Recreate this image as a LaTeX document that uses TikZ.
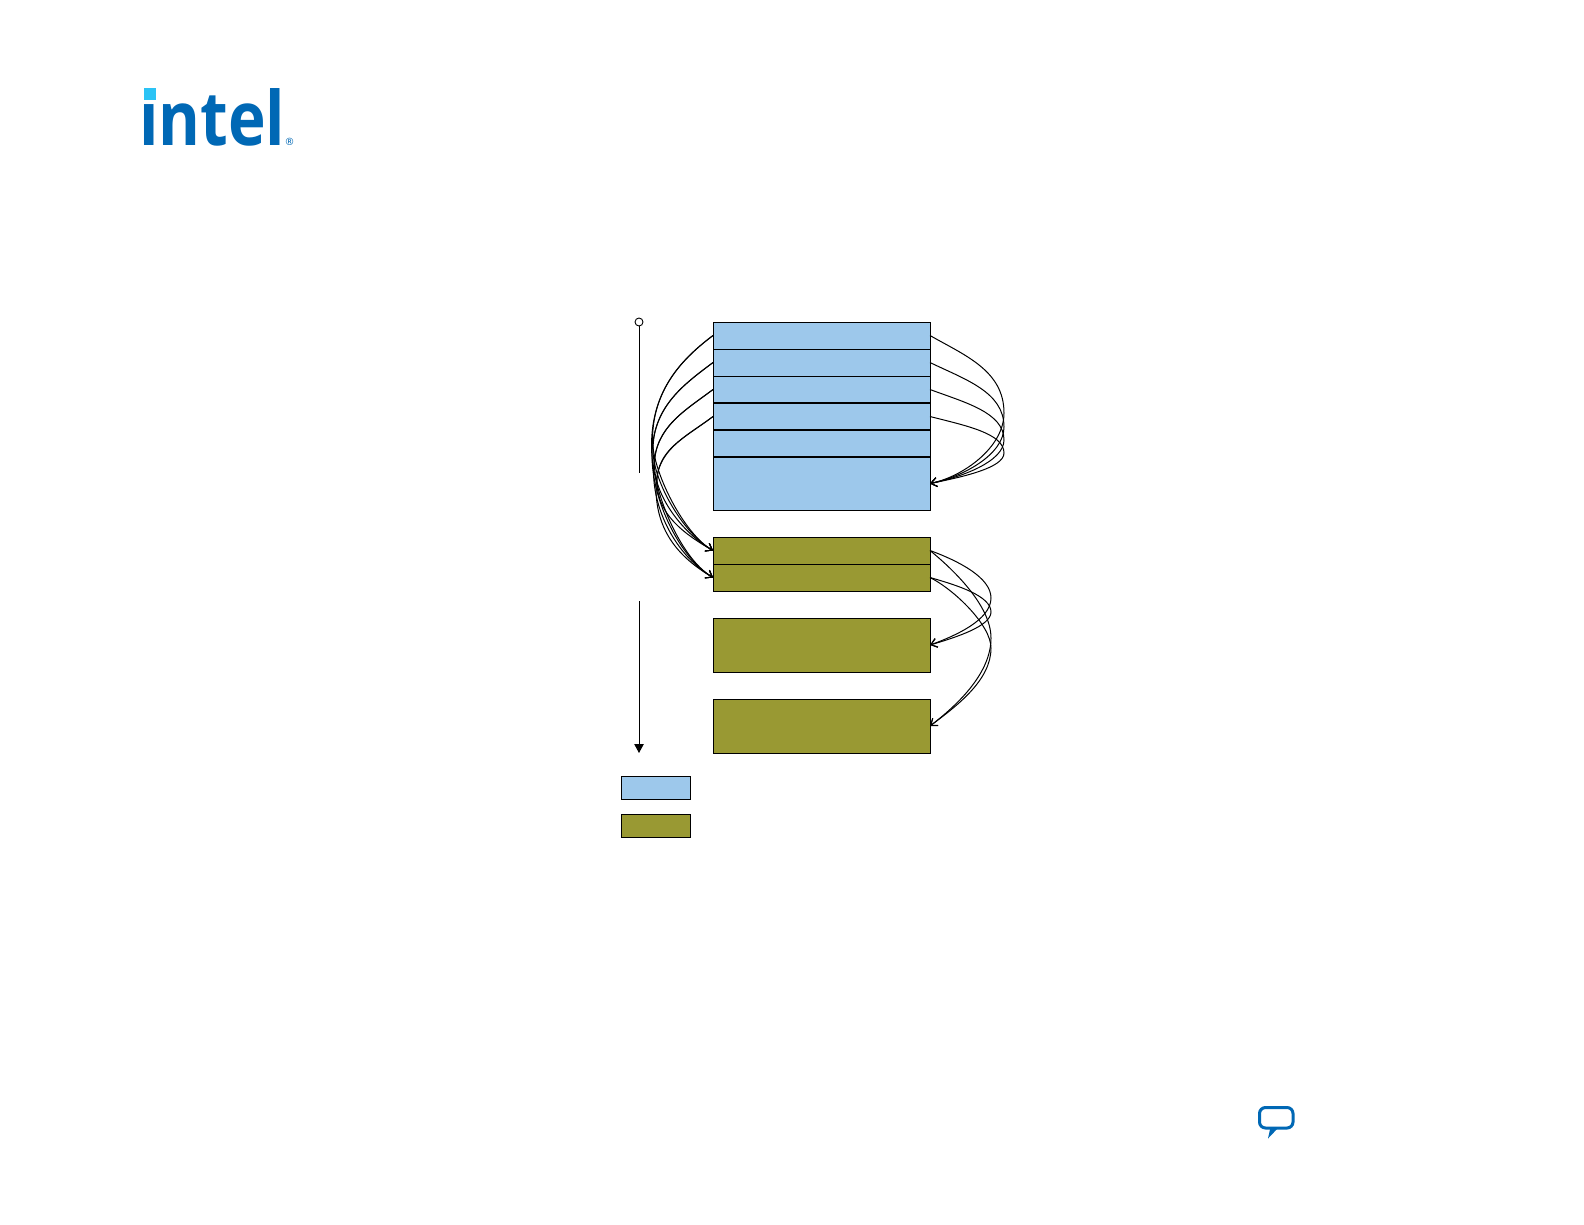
\documentclass[tikz,border=0pt]{standalone}
\usepackage{fontspec}
\usetikzlibrary{arrows.meta,calc}
\newfontfamily\logofont{Open Sans}[BoldFont={Open Sans Bold}]
\definecolor{sky}{HTML}{9DC8EB}
\definecolor{olivebox}{HTML}{999933}
\definecolor{intelblue}{HTML}{0068B5}
\definecolor{intelcyan}{HTML}{2BC3F5}
\tikzset{
  cellbox/.style={draw=black,line width=0.9pt,minimum width=217pt,inner sep=0pt,outer sep=0pt,anchor=north west},
  bluecell/.style={cellbox,fill=sky},
  olivecell/.style={cellbox,fill=olivebox},
  legendbox/.style={draw=black,line width=0.9pt,minimum width=69pt,minimum height=23pt,inner sep=0pt,outer sep=0pt,anchor=north west},
  link/.style={draw=black,line width=1pt},
  linkhead/.style={link,-{Straight Barb[length=6pt,width=9pt,line width=1pt]}},
  timeline/.style={draw=black,line width=1pt}
}
\begin{document}
\begin{tikzpicture}[x=1pt,y=-1pt]
\useasboundingbox (0,0) rectangle (1584,1224);
\fill[white] (0,0) rectangle (1584,1224);
% logo
\node[inner sep=0pt,anchor=base west,text=intelblue,xscale=0.85,transform shape,font=\logofont\bfseries\fontsize{75}{75}\selectfont] (logo) at (139,145) {intel};
\fill[white] (140,82) rectangle (160,101);
\fill[intelcyan] (144,88) rectangle (155.5,99.5);
\node[inner sep=0pt,text=intelblue,font=\fontspec{DejaVu Sans}\fontsize{10}{10}\selectfont] (reg) at (289.5,141.5) {®};
% speech bubble
\draw[intelblue,line width=3pt,rounded corners=6pt] (1259.5,1107.5) rectangle (1293,1128);
\fill[intelblue] (1268,1138.5) -- (1278,1128) -- (1270.5,1127) -- cycle;
% blue stack
\node[bluecell,minimum height=27pt] (b1) at (713,322) {};
\node[bluecell,minimum height=27pt] (b2) at (713,349) {};
\node[bluecell,minimum height=27pt] (b3) at (713,376) {};
\node[bluecell,minimum height=27pt] (b4) at (713,403) {};
\node[bluecell,minimum height=27pt] (b5) at (713,430) {};
\node[bluecell,minimum height=53pt] (b6) at (713,457) {};
\draw[line width=1.5pt] (b4.north west) -- (b4.north east) (b5.north west) -- (b5.north east) (b6.north west) -- (b6.north east);
% olive stack
\node[olivecell,minimum height=27pt] (o1) at (713,537) {};
\node[olivecell,minimum height=27pt] (o2) at (713,564) {};
\node[olivecell,minimum height=54pt] (o3) at (713,618) {};
\node[olivecell,minimum height=54pt] (o4) at (713,699) {};
% legend
\node[legendbox,fill=sky] (l1) at (621,776) {};
\node[legendbox,fill=olivebox] (l2) at (621,814) {};
% timeline
\node[draw=black,fill=white,circle,line width=0.9pt,minimum size=8pt,inner sep=0pt] (t0) at (639,322) {};
\coordinate (t1) at (639,473);
\coordinate (t2) at (639,601);
\coordinate (t3) at (639,753);
\draw[timeline] (t0) -- (t1);
\draw[timeline,-{Triangle[length=9pt,width=9.5pt]}] (t2) -- (t3);
% left arcs: blue cells to the first two olive cells
\foreach \s/\sy/\ya/\xa in {b1/336/440/652.5,b2/363/450/653,b3/390/465/654.5,b4/417/482/657}{
  \draw[linkhead] (\s.west) .. controls ($(\s.west)+(-28,21)$) and (\xa,{\ya-0.5*(\ya-\sy)}) .. (\xa,\ya) .. controls (\xa,{\ya+32}) and (684,534) .. (o1.west);
  \draw[linkhead] (\s.west) .. controls ($(\s.west)+(-29,22)$) and ({\xa-1},{\ya-0.5*(\ya-\sy)}) .. ({\xa-1},{\ya+6}) .. controls ({\xa-1},{\ya+50}) and (680,558) .. (o2.west);
}
% right arcs: blue cells to the large blue cell
\foreach \s/\sy/\ya/\dy in {b1/336/413/20,b2/363/427/17,b3/390/440/13,b4/417/453/9}{
  \draw[linkhead] (\s.east) .. controls ($(\s.east)+(35,\dy)$) and (1004,{\ya-0.55*(\ya-\sy)}) .. (1004,\ya) .. controls (1004,{\ya+0.5*(483-\ya)}) and (962,477) .. (b6.east);
}
% right arcs: olive cells to the lower olive cells
\draw[linkhead] (o1.east) .. controls ($(o1.east)+(30,11)$) and (991,578) .. (991,598) .. controls (991,620) and (955,636) .. (o3.east);
\draw[linkhead] (o2.east) .. controls ($(o2.east)+(28,8)$) and (991,596) .. (991,612) .. controls (991,626) and (957,637) .. (o3.east);
\draw[linkhead] (o1.east) .. controls ($(o1.east)+(22,18)$) and (991,605) .. (991,638) .. controls (991,672) and (960,703) .. (o4.east);
\draw[linkhead] (o2.east) .. controls ($(o2.east)+(24,12)$) and (991,625) .. (991,648) .. controls (991,680) and (958,705) .. (o4.east);
\end{tikzpicture}
\end{document}
